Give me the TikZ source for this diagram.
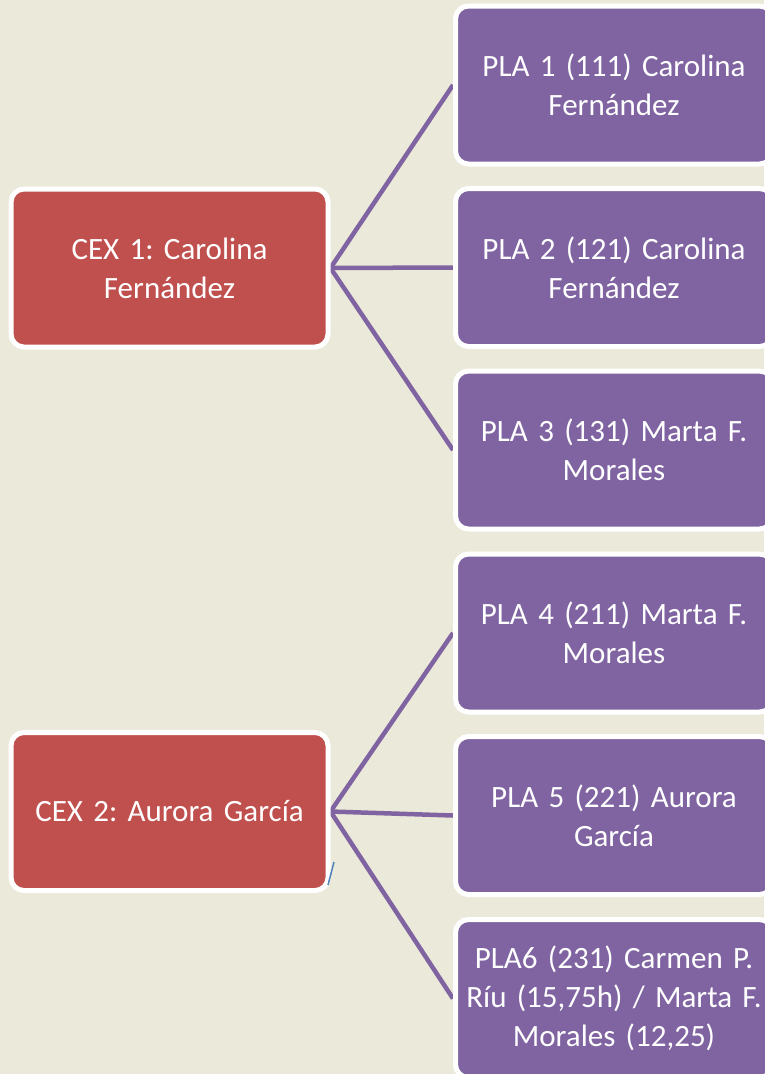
\documentclass[tikz,border=0pt]{standalone}
\usepackage{fontspec}
\setmainfont{Carlito}
\usetikzlibrary{backgrounds}
\definecolor{bgtan}{HTML}{EBE9DA}
\definecolor{cexred}{HTML}{C0504D}
\definecolor{plapurple}{HTML}{8064A2}
\definecolor{strayblue}{HTML}{4F81BD}
\tikzset{
  box/.style={draw=white, line width=5pt, rounded corners=13pt, minimum width=317pt,
    minimum height=158pt, text width=305pt, align=center, text=white,
    font=\fontsize{31}{39}\selectfont\frenchspacing, inner sep=0pt},
  cexbox/.style={box, fill=cexred},
  plabox/.style={box, fill=plapurple},
  link/.style={draw=plapurple, line width=4.5pt},
}
\begin{document}
\begin{tikzpicture}[x=1pt,y=-1pt]
\useasboundingbox (0,0) rectangle (764,1074);
\node[cexbox] (cex1) at (169.5,268) {CEX 1: Carolina\\Fernández};
\node[cexbox] (cex2) at (169.5,811.5) {CEX 2: Aurora García};
\node[plabox] (p1) at (614,85) {PLA 1 (111) Carolina\\Fernández};
\node[plabox] (p2) at (614,267.5) {PLA 2 (121) Carolina\\Fernández};
\node[plabox] (p3) at (614,450) {PLA 3 (131) Marta F.\\Morales};
\node[plabox] (p4) at (614,633) {PLA 4 (211) Marta F.\\Morales};
\node[plabox] (p5) at (614,815.5) {PLA 5 (221) Aurora\\García};
\node[plabox] (p6) at (614,998.5) {PLA6 (231) Carmen P.\\Ríu (15,75h) / Marta F.\\Morales (12,25)};
\coordinate (b1) at (334,862);
\coordinate (b2) at (328,885);
\begin{pgfonlayer}{background}
  \fill[bgtan] (0,0) rectangle (764,1074);
  \draw[link] (cex1.east) -- (p1.west);
  \draw[link] (cex1.east) -- (p2.west);
  \draw[link] (cex1.east) -- (p3.west);
  \draw[link] (cex2.east) -- (p4.west);
  \draw[link] (cex2.east) -- (p5.west);
  \draw[link] (cex2.east) -- (p6.west);
\end{pgfonlayer}
\draw[strayblue, line width=1.5pt] (b1) -- (b2);
\end{tikzpicture}
\end{document}
